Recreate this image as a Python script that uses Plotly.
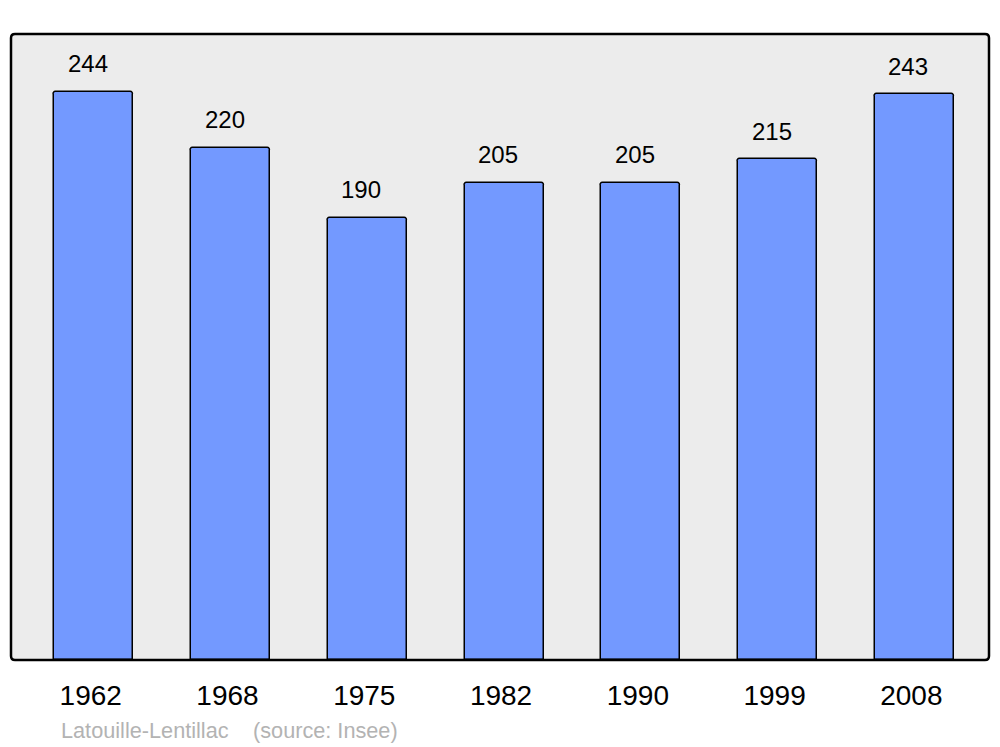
import plotly.graph_objects as go

years = ["1962", "1968", "1975", "1982", "1990", "1999", "2008"]
population = [244, 220, 190, 205, 205, 215, 243]
commune = "Latouille-Lentillac"
source = "(source: Insee)"

W, H = 1000, 747
L, R, T, B = 11, 11, 34, 87
pw, ph = W - L - R, H - T - B

fig = go.Figure()
fig.add_trace(go.Bar(
    x=years, y=population,
    width=0.578,
    marker=dict(color="#7399ff", line=dict(color="#000000", width=1.5), cornerradius=3),
    hoverinfo="x+y",
))

for i, v in enumerate(population):
    fig.add_annotation(x=i, y=v, text=str(v), showarrow=False, yanchor="middle",
                       yshift=28, xshift=-6,
                       font=dict(family="Liberation Sans, Arial, sans-serif", size=24, color="#000"))

# footer
fig.add_annotation(xref="paper", yref="paper", x=(59 - L) / pw, y=-(730 - (H - B)) / ph,
                   xanchor="left", yanchor="middle", text=commune, showarrow=False,
                   font=dict(family="Liberation Sans, Arial, sans-serif", size=21.7, color="#b3b3b3"))
fig.add_annotation(xref="paper", yref="paper", x=(251 - L) / pw, y=-(730 - (H - B)) / ph,
                   xanchor="left", yanchor="middle", text=source, showarrow=False,
                   font=dict(family="Liberation Sans, Arial, sans-serif", size=21.7, color="#b3b3b3"))

# rounded plot border
r = 4
rx, ry = r / pw, r / ph
path = (f"M {rx},0 L {1-rx},0 Q 1,0 1,{ry} L 1,{1-ry} Q 1,1 {1-rx},1 "
        f"L {rx},1 Q 0,1 0,{1-ry} L 0,{ry} Q 0,0 {rx},0 Z")
fig.add_shape(type="path", xref="paper", yref="paper", path=path,
              line=dict(color="#000000", width=2.5), layer="above")

fig.update_layout(
    width=W, height=H,
    margin=dict(l=L, r=R, t=T, b=B),
    paper_bgcolor="#ffffff",
    plot_bgcolor="#ececec",
    showlegend=False,
    bargap=0,
    font=dict(family="Liberation Sans, Arial, sans-serif"),
)
fig.update_xaxes(type="category", range=[-0.605, 6.546], showgrid=False, zeroline=False,
                 ticks="outside", ticklen=10, tickcolor="rgba(0,0,0,0)",
                 ticklabelshift=-3,
                 tickfont=dict(size=28, color="#000"), showline=False)
fig.update_yaxes(range=[0, 268.9], showgrid=False, zeroline=False, showticklabels=False,
                 showline=False)

fig.write_html("out.html", config={"displayModeBar": False},
               post_script="document.body.style.margin='0';")
